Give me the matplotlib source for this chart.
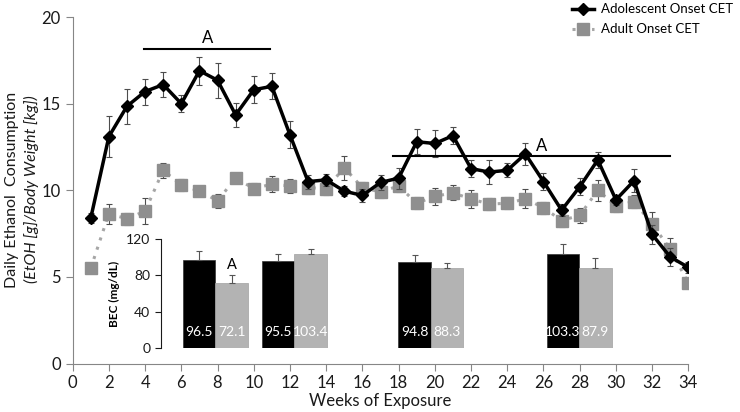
import matplotlib
matplotlib.use("Agg")
import matplotlib.pyplot as plt
import numpy as np

plt.rcParams['font.family'] = ['Lato', 'DejaVu Sans']

weeks = list(range(1, 35))
adol = [8.4, 13.1, 14.85, 15.7, 16.1, 15.0, 16.9, 16.35, 14.35, 15.8, 16.0, 13.2,
        10.5, 10.6, 9.95, 9.7, 10.45, 10.7, 12.8, 12.7, 13.15, 11.25, 11.05, 11.15,
        12.1, 10.5, 8.85, 10.2, 11.75, 9.45, 10.55, 7.45, 6.15, 5.55]
adol_err = [0.3, 1.2, 1.0, 0.75, 0.7, 0.5, 0.8, 1.0, 0.7, 0.77, 0.75, 0.78,
            0.4, 0.35, 0.3, 0.35, 0.43, 0.6, 0.72, 0.77, 0.5, 0.48, 0.67, 0.4,
            0.65, 0.48, 0.35, 0.48, 0.48, 0.3, 0.65, 0.53, 0.5, 0.3]
adult = [5.5, 8.65, 8.35, 8.8, 11.15, 10.3, 9.95, 9.4, 10.7, 10.1, 10.35, 10.25,
         10.15, 10.1, 11.3, 10.15, 9.9, 10.25, 9.25, 9.65, 9.85, 9.5, 9.2, 9.25,
         9.5, 9.0, 8.25, 8.55, 10.0, 9.1, 9.35, 8.05, 6.6, 4.65]
adult_err = [0.2, 0.58, 0.35, 0.77, 0.45, 0.35, 0.3, 0.4, 0.3, 0.3, 0.46, 0.4,
             0.35, 0.35, 0.7, 0.35, 0.35, 0.35, 0.35, 0.48, 0.43, 0.5, 0.35, 0.35,
             0.55, 0.35, 0.35, 0.43, 0.6, 0.35, 0.39, 0.67, 0.65, 0.2]

bec_adol = [96.5, 95.5, 94.8, 103.3]
bec_adol_err = [10, 8.5, 8, 11]
bec_adult = [72.1, 103.4, 88.3, 87.9]
bec_adult_err = [8.5, 6, 5.5, 11]
bec_labels_adol = ["96.5", "95.5", "94.8", "103.3"]
bec_labels_adult = ["72.1", "103.4", "88.3", "87.9"]

# layout (week coordinates of the inset bar groups)
group_pos = [7.88, 12.24, 19.78, 27.97]
bar_w = 1.8

fig = plt.figure(figsize=(7.4, 4.12), dpi=100)
ax = fig.add_axes([0.0982, 0.1177, 0.832, 0.841])

spine_c = '#868686'
grey_mk = '#8f8f8f'
grey_ln = '#a6a6a6'

ax.errorbar(weeks, adult, yerr=adult_err, fmt='none', ecolor='#4d4d4d',
            elinewidth=0.8, capsize=2.5, capthick=0.8, zorder=2)
ax.plot(weeks, adult, linestyle=(0, (1, 2.2)), color=grey_ln, linewidth=2.2,
        marker='s', markersize=8, markerfacecolor=grey_mk, markeredgecolor=grey_mk,
        label='Adult Onset CET', zorder=3)
ax.errorbar(weeks, adol, yerr=adol_err, fmt='none', ecolor='#4d4d4d',
            elinewidth=0.8, capsize=2.5, capthick=0.8, zorder=4)
ax.plot(weeks, adol, color='black', linewidth=2.5, marker='D', markersize=6.5,
        label='Adolescent Onset CET', zorder=5)

ax.set_xlim(0, 34)
ax.set_ylim(0, 20)
ax.set_xticks(range(0, 35, 2))
ax.set_yticks(range(0, 21, 5))
for s in ['top', 'right']:
    ax.spines[s].set_visible(False)
for s in ['left', 'bottom']:
    ax.spines[s].set_color(spine_c)
ax.tick_params(axis='both', colors=spine_c, labelcolor='#1a1a1a', labelsize=12,
               direction='out', length=5)
ax.set_xlabel('Weeks of Exposure', fontsize=12, color='#1a1a1a', labelpad=1)

# significance markers
ax.plot([3.95, 10.9], [18.15, 18.15], color='black', linewidth=1.5, zorder=6)
ax.text(7.45, 18.3, 'A', ha='center', va='bottom', fontsize=12)
ax.plot([17.7, 33.0], [11.97, 11.97], color='black', linewidth=1.5, zorder=6)
ax.text(25.9, 12.1, 'A', ha='center', va='bottom', fontsize=12)

# y label
fig.text(0.016, 0.54, 'Daily Ethanol  Consumption', rotation=90, ha='center',
         va='center', fontsize=11.5, color='#1a1a1a')
fig.text(0.043, 0.54, '(EtOH [g]/Body Weight [kg])', rotation=90, ha='center',
         va='center', fontsize=11.5, style='italic', color='#1a1a1a')

# legend
h, l = ax.get_legend_handles_labels()
leg = fig.legend(h[::-1], l[::-1], loc='upper left', bbox_to_anchor=(0.768, 1.0),
                 frameon=False, fontsize=9.5, handlelength=1.7, handletextpad=0.5,
                 labelspacing=0.6, borderpad=0.25, borderaxespad=0)

# inset BEC bar chart
iax = ax.inset_axes([4.86, 0.88, 30.5 - 4.86, 7.18 - 0.88], transform=ax.transData)
iax.patch.set_alpha(0)
pos = np.array(group_pos)
iax.bar(pos - bar_w / 2, bec_adol, width=bar_w, color='black', edgecolor='#333333',
        linewidth=0.5, zorder=2)
iax.bar(pos + bar_w / 2, bec_adult, width=bar_w, color='#b3b3b3', edgecolor='#a0a0a0',
        linewidth=0.5, zorder=2)
iax.errorbar(pos - bar_w / 2, bec_adol, yerr=[np.zeros(4), bec_adol_err], fmt='none',
             ecolor='#555555', elinewidth=0.8, capsize=2.5, capthick=0.8, zorder=3)
iax.errorbar(pos + bar_w / 2, bec_adult, yerr=[np.zeros(4), bec_adult_err], fmt='none',
             ecolor='#555555', elinewidth=0.8, capsize=2.5, capthick=0.8, zorder=3)
for i in range(4):
    iax.text(pos[i] - bar_w / 2, 18, bec_labels_adol[i], ha='center', va='center',
             color='white', fontsize=10, zorder=4)
    iax.text(pos[i] + bar_w / 2, 18, bec_labels_adult[i], ha='center', va='center',
             color='white', fontsize=10, zorder=4)
iax.text(pos[0] + bar_w / 2, 84, 'A', ha='center', va='bottom', fontsize=10.5)
iax.set_xlim(4.86, 30.5)
iax.set_ylim(0, 120)
iax.set_yticks([0, 40, 80, 120])
iax.set_xticks([])
for s in ['top', 'right', 'bottom']:
    iax.spines[s].set_visible(False)
iax.spines['left'].set_color('#1a1a1a')
iax.tick_params(axis='y', labelsize=10, length=4, color='#1a1a1a', labelcolor='#1a1a1a')
iax.set_ylabel('BEC (mg/dL)', fontsize=8.5, fontweight='bold', labelpad=4)

fig.savefig('out.png', dpi=100)
